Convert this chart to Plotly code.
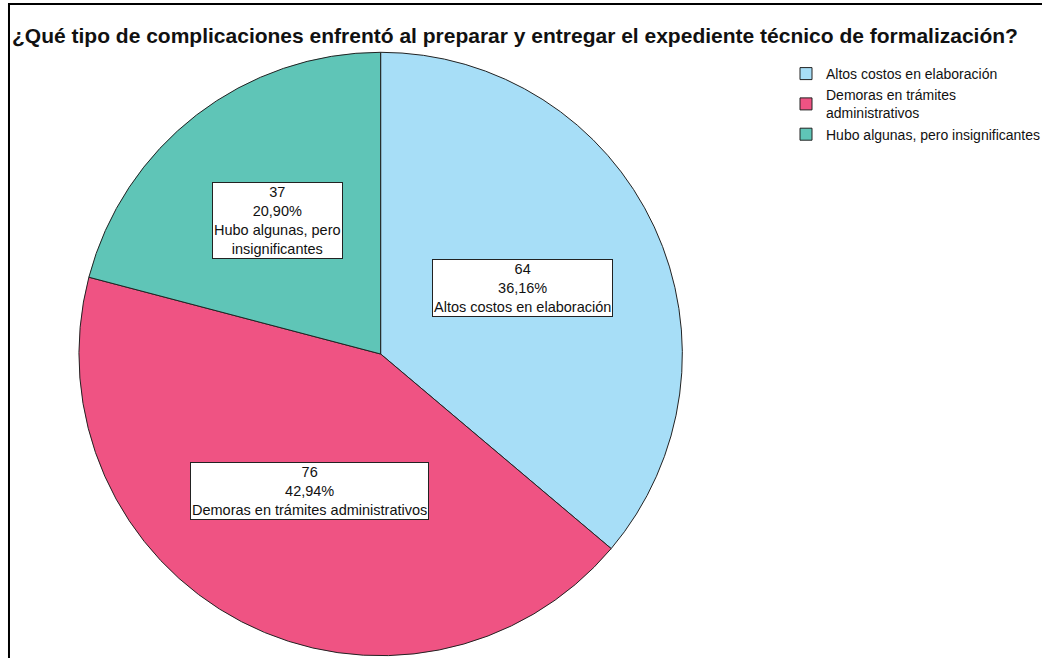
import math
import plotly.graph_objects as go

categories = ["Altos costos en elaboración", "Demoras en trámites administrativos", "Hubo algunas, pero insignificantes"]
legend_labels = ["Altos costos en elaboración", "Demoras en trámites<br>administrativos", "Hubo algunas, pero insignificantes"]
box_labels = ["Altos costos en elaboración", "Demoras en trámites administrativos", "Hubo algunas, pero<br>insignificantes"]
counts = [64, 76, 37]
percents = ["36,16%", "42,94%", "20,90%"]
colors = ["#A7DEF7", "#EF5383", "#5FC5B7"]

W, H = 1046, 658
cx, cy, R = 381, 354, 302  # pie centre and radius in pixels
label_r = [0.52, 0.51, 0.56]

fig = go.Figure(go.Pie(
    labels=legend_labels,
    values=counts,
    sort=False,
    direction="clockwise",
    rotation=0,
    marker=dict(colors=colors, line=dict(color="#222222", width=1)),
    textinfo="none",
    hoverinfo="label+value+percent",
    domain=dict(x=[(cx - R) / W, (cx + R) / W], y=[1 - (cy + R) / H, 1 - (cy - R) / H]),
))

total = sum(counts)
cum = 0
annotations = []
for i, v in enumerate(counts):
    mid = (cum + v / 2) / total * 2 * math.pi
    cum += v
    dx = math.sin(mid) * R * label_r[i]
    dy_screen = -math.cos(mid) * R * label_r[i]
    annotations.append(dict(
        x=(cx + dx) / W, y=1 - (cy + dy_screen) / H, xref="paper", yref="paper",
        xanchor="center", yanchor="middle",
        text=f"{counts[i]}<br>{percents[i]}<br>{box_labels[i]}",
        showarrow=False, align="center",
        font=dict(family="Liberation Sans, Arial", size=14.5, color="#111111"),
        bgcolor="white", bordercolor="#222222", borderwidth=1, borderpad=1,
    ))

annotations.append(dict(
    x=10 / W, y=1 - 35 / H, xref="paper", yref="paper", xanchor="left", yanchor="middle",
    text="<b>¿Qué tipo de complicaciones enfrentó al preparar y entregar el expediente técnico de formalización?</b>",
    showarrow=False, font=dict(family="Liberation Sans, Arial", size=21, color="#111111"),
))

fig.update_layout(
    width=W, height=H, autosize=False,
    margin=dict(l=0, r=0, t=0, b=0),
    paper_bgcolor="white", plot_bgcolor="white",
    showlegend=True,
    legend=dict(x=787 / W, y=1 - 58 / H, xanchor="left", yanchor="top",
                font=dict(family="Liberation Sans, Arial", size=14, color="#111111"),
                tracegroupgap=0, itemwidth=30, bgcolor="rgba(0,0,0,0)"),
    annotations=annotations,
    shapes=[
        dict(type="line", xref="paper", yref="paper", x0=8 / W, x1=1043 / W, y0=1 - 4 / H, y1=1 - 4 / H,
             line=dict(color="black", width=2)),
        dict(type="line", xref="paper", yref="paper", x0=9 / W, x1=9 / W, y0=1 - 4 / H, y1=0,
             line=dict(color="black", width=2)),
    ],
)

fig.write_html("out.html", config={"displayModeBar": False},
               post_script="document.body.style.margin='0';document.body.style.padding='0';")
